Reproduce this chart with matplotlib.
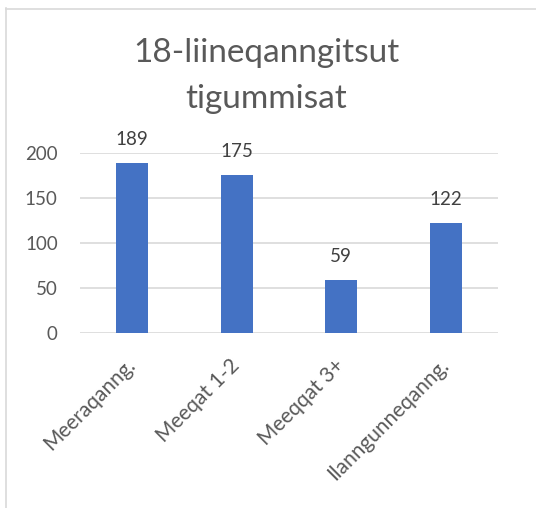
import matplotlib.pyplot as plt
from matplotlib.lines import Line2D

# data
categories = ['Meeraqanng.', 'Meeqat 1-2', 'Meeqqat 3+', 'Ilanngunneqanng.']
values = [189, 175, 59, 122]
yticks = [0, 50, 100, 150, 200]

plt.rcParams['font.family'] = ['Lato', 'DejaVu Sans']

fig = plt.figure(figsize=(5.36, 5.08), dpi=100)
ax = fig.add_axes([80/536, 1 - 333/508, 418/536, 180/508])

# chart area border (only left and top visible)
fig.add_artist(Line2D([5.5/536, 5.5/536], [0, 1 - 8/508], transform=fig.transFigure,
                      color='#d9d9d9', lw=1.2))
fig.add_artist(Line2D([5.5/536, 1], [1 - 8.5/508, 1 - 8.5/508], transform=fig.transFigure,
                      color='#d9d9d9', lw=1.2))

x = range(len(categories))
ax.bar(x, values, width=0.31, color='#4472c4', zorder=3)

for xi, v in zip(x, values):
    ax.annotate(str(v), (xi, v), xytext=(0, 13), textcoords='offset points',
                ha='center', va='baseline', fontsize=13.5, color='#404040')

ax.set_xlim(-0.5, 3.5)
ax.set_ylim(0, 200)
ax.set_yticks(yticks)
ax.yaxis.grid(True, color='#d9d9d9', lw=1.2, zorder=0)
ax.set_axisbelow(True)
for s in ax.spines.values():
    s.set_visible(False)
ax.tick_params(axis='both', length=0, labelcolor='#595959')
ax.tick_params(axis='y', pad=16, labelsize=13.5)
ax.set_xticks(list(x))
ax.set_xticklabels(categories, rotation=45, ha='right', va='center',
                   rotation_mode='anchor')
ax.tick_params(axis='x', pad=21, labelsize=15)

fig.text(266/536, 1 - 108/508, '18-liineqanngitsut\ntigummisat', ha='center',
         va='baseline', fontsize=24, color='#595959', linespacing=1.65)

fig.savefig('out.png', dpi=100)
